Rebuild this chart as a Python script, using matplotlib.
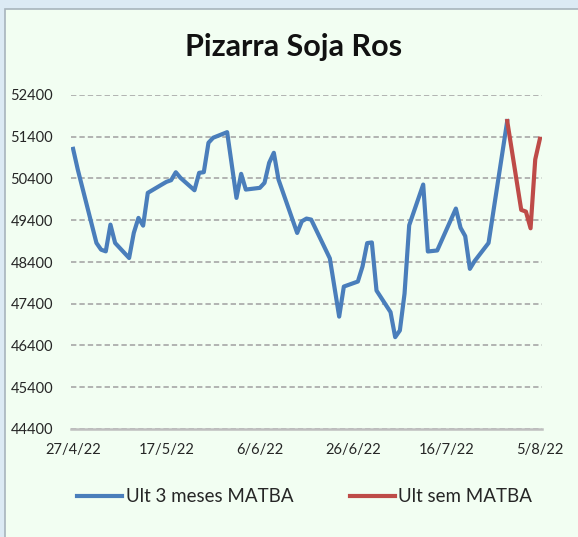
import datetime as dt
import matplotlib
matplotlib.use("Agg")
import matplotlib.pyplot as plt
import matplotlib.dates as mdates
from matplotlib.patches import Rectangle

# serie "Ult 3 meses MATBA" (dia/mes de 2022)
fechas_3m = ["27/4", "28/4", "2/5", "3/5", "4/5", "5/5", "6/5", "9/5", "10/5", "11/5",
             "12/5", "13/5", "16/5", "17/5", "18/5", "19/5", "20/5", "23/5", "24/5", "25/5",
             "26/5", "27/5", "30/5", "1/6", "2/6", "3/6", "6/6", "7/6", "8/6", "9/6",
             "10/6", "14/6", "15/6", "16/6", "17/6", "21/6", "23/6", "24/6", "27/6", "28/6",
             "29/6", "30/6", "1/7", "4/7", "5/7", "6/7", "7/7", "8/7", "11/7", "12/7",
             "14/7", "18/7", "19/7", "20/7", "21/7", "22/7", "25/7", "29/7"]
precios_3m = [51110, 50615, 48856, 48695, 48655, 49295, 48856, 48496, 49096, 49456,
              49271, 50056, 50255, 50320, 50360, 50550, 50416, 50119, 50536, 50551,
              51256, 51376, 51510, 49936, 50512, 50135, 50176, 50296, 50776, 51016,
              50375, 49096, 49375, 49440, 49416, 48487, 47092, 47812, 47932, 48292,
              48853, 48868, 47716, 47200, 46600, 46760, 47640, 49280, 50255, 48652,
              48676, 49680, 49220, 49020, 48236, 48420, 48856, 51776]

# serie "Ult sem MATBA"
fechas_sem = ["29/7", "1/8", "2/8", "3/8", "4/8", "5/8"]
precios_sem = [51776, 49648, 49608, 49208, 50856, 51352]

y_ticks = [44400, 45400, 46400, 47400, 48400, 49400, 50400, 51400, 52400]
x_ticks = ["27/4", "17/5", "6/6", "26/6", "16/7", "5/8"]


def to_date(s):
    d, m = s.split("/")
    return dt.datetime(2022, int(m), int(d))


def fmt_date(x, pos=None):
    d = mdates.num2date(x)
    return f"{d.day}/{d.month}/{d.strftime('%y')}"


plt.rcParams['font.family'] = ['Lato', 'DejaVu Sans']

fig = plt.figure(figsize=(5.78, 5.37), dpi=100, facecolor='#DCEAF4')
fig.patches.append(Rectangle((5 / 578, -0.1), 1.1, 1 - 9 / 537 + 0.1,
                             transform=fig.transFigure, facecolor='#F2FEF2',
                             edgecolor='#A8B4BC', linewidth=1.2, zorder=-10))

ax = fig.add_axes([71 / 578, 1 - 429 / 537, 471 / 578, (429 - 95) / 537])
ax.set_facecolor('none')

ax.plot([to_date(s) for s in fechas_3m], precios_3m, color='#4A7EBB', lw=3.0,
        solid_joinstyle='round', label='Ult 3 meses MATBA', zorder=3)
ax.plot([to_date(s) for s in fechas_sem], precios_sem, color='#BE4B48', lw=3.0,
        solid_joinstyle='round', label='Ult sem MATBA', zorder=3)

x0 = mdates.date2num(to_date(x_ticks[0]))
x1 = mdates.date2num(to_date(x_ticks[-1]))
ax.set_xlim(x0 - 0.45, x1 + 0.45)
ax.set_ylim(y_ticks[0], y_ticks[-1])
ax.set_yticks(y_ticks)
ax.set_xticks([mdates.date2num(to_date(s)) for s in x_ticks])
ax.xaxis.set_major_formatter(plt.FuncFormatter(fmt_date))

ax.grid(axis='y', color='#A0A0A0', linestyle=(0, (3.5, 2)), linewidth=1.1)
ax.set_axisbelow(True)
for side in ['top', 'right', 'left']:
    ax.spines[side].set_visible(False)
ax.spines['bottom'].set_color('#BFBFBF')
ax.spines['bottom'].set_linewidth(1.8)
ax.tick_params(axis='both', length=0, labelsize=10.5, labelcolor='#262626')
ax.tick_params(axis='y', pad=13)
ax.tick_params(axis='x', pad=10)

fig.text(294 / 578, 1 - 47 / 537, 'Pizarra Soja Ros', ha='center', va='center',
         fontsize=22, fontweight='bold', color='#111111')

fig.legend(loc='center left', bbox_to_anchor=(77 / 578, 1 - 497 / 537), ncol=2,
           frameon=False, fontsize=13.5, handlelength=2.4, handletextpad=0.2,
           columnspacing=3.0, borderpad=0, borderaxespad=0, labelcolor='#262626')

fig.savefig('out.png', dpi=100, facecolor=fig.get_facecolor())
